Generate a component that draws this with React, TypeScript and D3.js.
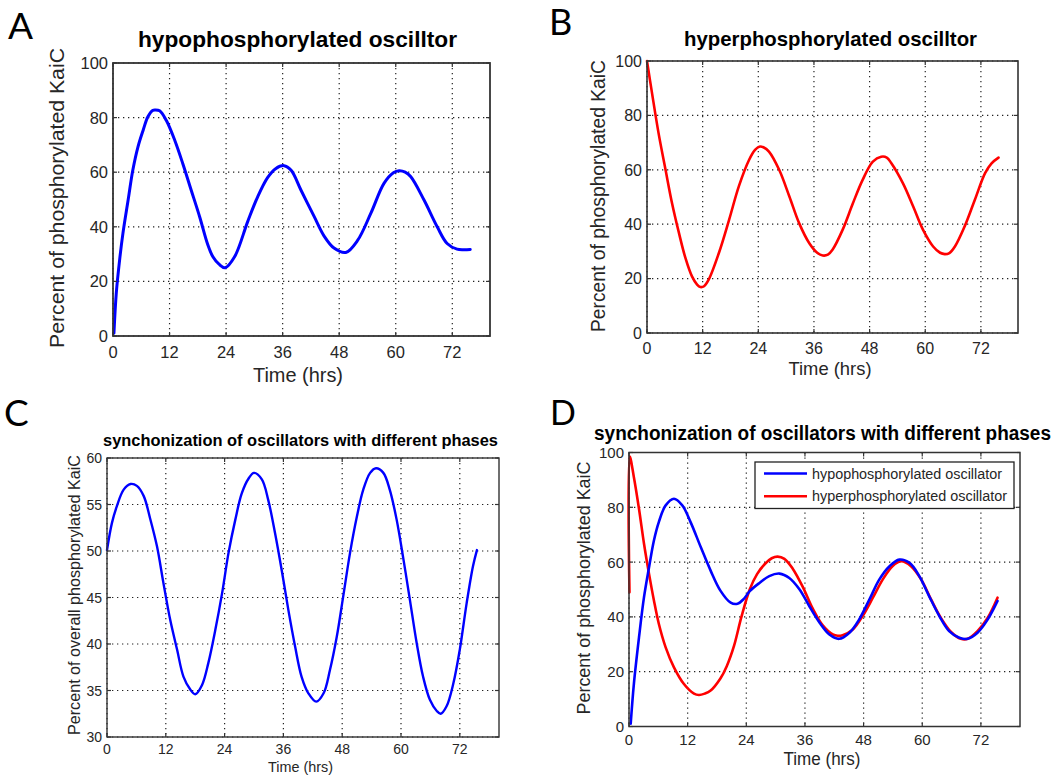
import React from 'react';
import * as d3 from 'd3';

// ---------- data ----------
const xTicks = [0, 12, 24, 36, 48, 60, 72];
const pctTicks = [0, 20, 40, 60, 80, 100];
const syncTicks = [30, 35, 40, 45, 50, 55, 60];

// Panel A: hypophosphorylated oscillator
const hypoT = [0.2, 0.7, 1.4, 2.1, 3.2, 4.2, 5.3, 6.4, 7.4, 8.4, 8.9, 9.9, 11.3, 13.1, 14.8, 16.6, 18.4, 20.1, 21.2, 22.5, 23.8, 25.8, 28.6, 30.7, 32.8, 34.5, 36.3, 37.8, 39.9, 42.7, 44.8, 46.9, 49.4, 51.9, 54.7, 57.5, 59.5, 60.7, 62, 63.2, 66, 68.8, 70.9, 73, 74.5, 75.8];
const hypoV = [1, 15.8, 27.8, 37.5, 49.7, 60.7, 69.3, 75.4, 80.3, 82.6, 82.8, 82.5, 79, 71.7, 63.2, 53.4, 43.6, 33.5, 29, 26.3, 25, 29, 42, 51, 58, 61.3, 62.4, 60.7, 53.4, 43.7, 36.6, 32.2, 30.6, 35, 44.9, 55.9, 59.8, 60.5, 60, 58.3, 49.8, 40, 33.9, 31.8, 31.6, 31.7];

// Panel B: hyperphosphorylated oscillator
const hyperT = [0, 1.1, 2.5, 4, 5.4, 6.9, 8.3, 9.7, 10.8, 11.5, 12.3, 13.3, 15.5, 17.7, 19.8, 22, 23.3, 24.2, 25.2, 26.3, 28.5, 30.7, 32.8, 35, 36.7, 37.9, 39, 40, 42.2, 44.4, 46.5, 48.7, 50.5, 51.7, 52.7, 55.2, 57.4, 59.5, 61.7, 63.2, 64.2, 65.2, 66.4, 68.5, 70.7, 72.9, 74.3, 75.8];
const hyperV = [100, 88, 73.4, 60, 47.7, 36.7, 27.5, 20.8, 17.8, 16.9, 17.2, 19.6, 29.4, 41.6, 53.9, 63.6, 67.3, 68.5, 68.2, 66.7, 60, 50.2, 40.4, 33, 29.5, 28.5, 28.8, 30.6, 38, 47.7, 56.3, 63, 64.8, 64.5, 62.4, 55, 46.5, 38, 31.8, 29.5, 29, 29.4, 31.8, 39.2, 49, 58.8, 62.4, 64.5];

// Panel C: overall phosphorylation
const syncT = [0, 1, 2, 3.4, 4.8, 6.1, 7.5, 8.8, 10.2, 11.5, 12.9, 14.3, 15.6, 17, 18, 19.4, 20.7, 22.1, 23.5, 24.8, 26.2, 27.5, 28.9, 30, 31.6, 32.9, 34.3, 35.7, 37, 38.4, 39.7, 41.1, 42.7, 44.2, 45.5, 46.9, 48.2, 49.6, 51, 52.3, 53.7, 54.9, 56.4, 57.7, 59.1, 60.5, 61.8, 63.2, 64.5, 65.9, 67.3, 68.1, 69.3, 70.7, 72, 73.4, 74.7, 75.5];
const syncV = [50.1, 53, 54.8, 56.6, 57.2, 57, 55.9, 53.5, 50.5, 46.6, 42.6, 39.4, 36.5, 35.1, 34.6, 35.6, 38, 41.5, 45.5, 49.8, 53.4, 56.2, 57.8, 58.4, 57.7, 55.5, 51.9, 47.8, 43.7, 39.7, 36.5, 34.7, 33.8, 34.7, 37.2, 40.8, 45.1, 49.8, 53.7, 56.6, 58.4, 58.9, 58.4, 56.6, 53.4, 49.1, 44.8, 40.1, 36.5, 34, 32.8, 32.5, 33.3, 35.8, 39.4, 44.4, 48.4, 50.1];

// Panel D: both oscillators together
const dHypoT = [0.35, 1.0, 2.05, 3.07, 4.1, 5.1, 6.1, 7.5, 9.2, 10.9, 12.6, 14.7, 16.7, 18.7, 20.8, 22.2, 23.5, 24.7, 26.7, 28.7, 30.8, 32.8, 34.9, 36.9, 39, 41, 43, 45.1, 47.1, 49.2, 51.2, 53.3, 55.3, 57.4, 59.4, 61.4, 63.5, 65.5, 67.6, 69.3, 71.3, 73.4, 75.4];
const dHypoV = [1, 15.6, 32.6, 47.2, 58.1, 67.9, 74.6, 80.7, 83.1, 80.7, 74.6, 65.4, 56.9, 49.6, 45.2, 44.8, 46.6, 49.4, 52.4, 54.9, 55.8, 54.2, 50, 43.9, 37.9, 33.6, 32, 34.2, 39.1, 46.4, 53.6, 58.5, 60.9, 59.7, 54.9, 47.6, 40.3, 34.8, 32.4, 32, 34.2, 39.1, 45.8];
const dHyperT = [0.1, 0.15, 1.0, 2.05, 3.07, 4.1, 5.1, 6.1, 7.5, 9.2, 11.2, 13.3, 14.3, 15.5, 16.7, 18.7, 20, 21.5, 23, 24.7, 26.2, 27.8, 29.2, 30.4, 31.8, 33.5, 35.6, 37.6, 39.6, 41.7, 42.7, 43.7, 45.8, 47.8, 49.9, 51.9, 53.9, 55.7, 57.7, 59.8, 61.8, 63.8, 65.9, 67.9, 69.3, 71.3, 73.4, 75.4];
const dHyperV = [49, 98.5, 91, 79.4, 66.7, 55.7, 46, 37.5, 28.9, 21.6, 15.6, 12, 11.5, 12, 13.1, 17.5, 22, 29.5, 40, 50, 55.6, 59.3, 61.4, 62, 61.2, 57.6, 50.8, 43, 37, 33.6, 33.1, 33.3, 35.4, 40.3, 47, 53.6, 58.5, 60.3, 58.5, 53.6, 46.4, 39.7, 34.5, 32, 32, 34.8, 39.7, 47];

const yLabel = 'Percent of phosphorylated KaiC';
const yLabelC = 'Percent of overall phosphorylated KaiC';
const xLabel = 'Time (hrs)';
const legendNames = ['hypophosphorylated oscillator', 'hyperphosphorylated oscillator'];

// ---------- styling ----------
const SANS = '"Liberation Sans", Arial, Helvetica, sans-serif';
const LETTER = 'Lato, "Open Sans", sans-serif';
const BLUE = '#0000ff';
const RED = '#ff0000';
const INK = '#262626';

type Series = { t: number[]; v: number[]; color: string; width: number };
type PanelCfg = {
  box: { left: number; right: number; top: number; bottom: number };
  yDomain: [number, number];
  yTicks: number[];
  tickSize: number;
  xTickDy: number;
  title: { text: string; x: number; y: number; size: number; len: number };
  ylab: { text: string; x: number; cy: number; size: number; len: number };
  xlab: { cx: number; y: number; size: number; len: number };
  letter: { text: string; x: number; y: number; size: number };
  series: Series[];
  boxWidth: number;
};

const Panel: React.FC<{ cfg: PanelCfg; children?: React.ReactNode }> = ({ cfg, children }) => {
  const { box } = cfg;
  const x = d3.scaleLinear().domain([0, 80]).range([box.left, box.right]);
  const y = d3.scaleLinear().domain(cfg.yDomain).range([box.bottom, box.top]);
  const tl = 4;
  return (
    <g>
      <text x={cfg.letter.x} y={cfg.letter.y} fontFamily={LETTER} fontSize={cfg.letter.size} fill="#000">
        {cfg.letter.text}
      </text>
      <text
        x={cfg.title.x}
        y={cfg.title.y}
        fontFamily={SANS}
        fontWeight="bold"
        fontSize={cfg.title.size}
        textLength={cfg.title.len}
        lengthAdjust="spacingAndGlyphs"
        fill="#000"
      >
        {cfg.title.text}
      </text>
      <rect x={box.left} y={box.top} width={box.right - box.left} height={box.bottom - box.top} fill="#fff" />
      {/* grid */}
      {xTicks.map((t) => (
        <line key={'gx' + t} x1={x(t)} x2={x(t)} y1={box.top} y2={box.bottom} stroke="#222" strokeWidth={1.2} strokeDasharray="1.3 3.7" />
      ))}
      {cfg.yTicks.map((t) => (
        <line key={'gy' + t} x1={box.left} x2={box.right} y1={y(t)} y2={y(t)} stroke="#222" strokeWidth={1.2} strokeDasharray="1.3 3.7" />
      ))}
      {/* series */}
      {cfg.series.map((s, i) => {
        const pts = s.t.map((t, k) => [t, s.v[k]] as [number, number]);
        const path = d3
          .line<[number, number]>()
          .x((d) => x(d[0]))
          .y((d) => y(d[1]))
          .curve(d3.curveCatmullRom.alpha(0.5))(pts);
        return <path key={i} d={path || ''} fill="none" stroke={s.color} strokeWidth={s.width} strokeLinejoin="round" strokeLinecap="round" />;
      })}
      {/* box */}
      <rect x={box.left} y={box.top} width={box.right - box.left} height={box.bottom - box.top} fill="none" stroke="#333" strokeWidth={cfg.boxWidth} />
      {/* ticks */}
      {xTicks.map((t) => (
        <g key={'tx' + t}>
          <line x1={x(t)} x2={x(t)} y1={box.bottom} y2={box.bottom - tl} stroke="#333" strokeWidth={1.2} />
          <line x1={x(t)} x2={x(t)} y1={box.top} y2={box.top + tl} stroke="#333" strokeWidth={1.2} />
          <text x={x(t)} y={box.bottom + cfg.xTickDy} textAnchor="middle" fontFamily={SANS} fontSize={cfg.tickSize} fill={INK}>
            {t}
          </text>
        </g>
      ))}
      {cfg.yTicks.map((t) => (
        <g key={'ty' + t}>
          <line x1={box.left} x2={box.left + tl} y1={y(t)} y2={y(t)} stroke="#333" strokeWidth={1.2} />
          <line x1={box.right} x2={box.right - tl} y1={y(t)} y2={y(t)} stroke="#333" strokeWidth={1.2} />
          <text x={box.left - 5} y={y(t) + cfg.tickSize * 0.36} textAnchor="end" fontFamily={SANS} fontSize={cfg.tickSize} fill={INK}>
            {t}
          </text>
        </g>
      ))}
      {/* axis labels */}
      <text
        transform={`translate(${cfg.ylab.x},${cfg.ylab.cy}) rotate(-90)`}
        textAnchor="middle"
        fontFamily={SANS}
        fontSize={cfg.ylab.size}
        textLength={cfg.ylab.len}
        lengthAdjust="spacingAndGlyphs"
        fill={INK}
      >
        {cfg.ylab.text}
      </text>
      <text
        x={cfg.xlab.cx}
        y={cfg.xlab.y}
        textAnchor="middle"
        fontFamily={SANS}
        fontSize={cfg.xlab.size}
        textLength={cfg.xlab.len}
        lengthAdjust="spacingAndGlyphs"
        fill={INK}
      >
        {xLabel}
      </text>
      {children}
    </g>
  );
};

const panelA: PanelCfg = {
  box: { left: 113, right: 490, top: 63, bottom: 336 },
  yDomain: [0, 100],
  yTicks: pctTicks,
  tickSize: 16.5,
  xTickDy: 22,
  title: { text: 'hypophosphorylated oscilltor', x: 138, y: 47, size: 22, len: 319 },
  ylab: { text: yLabel, x: 64, cy: 198, size: 21, len: 300 },
  xlab: { cx: 298, y: 382, size: 20, len: 90 },
  letter: { text: 'A', x: 8, y: 39, size: 37 },
  series: [{ t: hypoT, v: hypoV, color: BLUE, width: 3 }],
  boxWidth: 1.8,
};

const panelB: PanelCfg = {
  box: { left: 647, right: 1018, top: 61, bottom: 333 },
  yDomain: [0, 100],
  yTicks: pctTicks,
  tickSize: 16,
  xTickDy: 21,
  title: { text: 'hyperphosphorylated oscilltor', x: 684, y: 46, size: 20.5, len: 293 },
  ylab: { text: yLabel, x: 605, cy: 196, size: 19.3, len: 272 },
  xlab: { cx: 830, y: 375, size: 18.2, len: 83 },
  letter: { text: 'B', x: 549, y: 35, size: 36 },
  series: [{ t: hyperT, v: hyperV, color: RED, width: 2.6 }],
  boxWidth: 1.6,
};

const panelC: PanelCfg = {
  box: { left: 107, right: 499, top: 458, bottom: 737 },
  yDomain: [30, 60],
  yTicks: syncTicks,
  tickSize: 14,
  xTickDy: 17,
  title: { text: 'synchonization of oscillators with different phases', x: 103, y: 446, size: 17, len: 395 },
  ylab: { text: yLabelC, x: 80, cy: 595, size: 16, len: 280 },
  xlab: { cx: 300.5, y: 772, size: 15, len: 65 },
  letter: { text: 'C', x: 4, y: 426, size: 37 },
  series: [{ t: syncT, v: syncV, color: BLUE, width: 2.4 }],
  boxWidth: 1.4,
};

const panelD: PanelCfg = {
  box: { left: 629, right: 1020, top: 452.5, bottom: 726.5 },
  yDomain: [0, 100],
  yTicks: pctTicks,
  tickSize: 15,
  xTickDy: 18.5,
  title: { text: 'synchonization of oscillators with different phases', x: 594, y: 440, size: 19.5, len: 457 },
  ylab: { text: yLabel, x: 590, cy: 588, size: 18, len: 253 },
  xlab: { cx: 822, y: 765, size: 17.5, len: 77 },
  letter: { text: 'D', x: 550, y: 425, size: 34 },
  series: [
    { t: dHyperT, v: dHyperV, color: RED, width: 2.6 },
    { t: dHypoT, v: dHypoV, color: BLUE, width: 2.6 },
  ],
  boxWidth: 1.5,
};

const Legend: React.FC = () => {
  const lx = 755;
  const ly = 462;
  const colors = [BLUE, RED];
  const lens = [190, 195];
  return (
    <g>
      <rect x={lx} y={ly} width={259} height={46.5} fill="#fff" stroke="#222" strokeWidth={1.3} />
      {legendNames.map((n, i) => (
        <g key={n}>
          <line x1={lx + 9} x2={lx + 52} y1={ly + 11.5 + i * 22.7} y2={ly + 11.5 + i * 22.7} stroke={colors[i]} strokeWidth={2.6} />
          <text
            x={lx + 57}
            y={ly + 16.5 + i * 22.7}
            fontFamily={SANS}
            fontSize={14}
            textLength={lens[i]}
            lengthAdjust="spacingAndGlyphs"
            fill={INK}
          >
            {n}
          </text>
        </g>
      ))}
    </g>
  );
};

export default function App() {
  return (
    <svg
      width={1064}
      height={780}
      viewBox="0 0 1064 780"
      style={{ position: 'absolute', left: 0, top: 0, display: 'block', background: '#fff' }}
    >
      <rect x={0} y={0} width={1064} height={780} fill="#fff" />
      <Panel cfg={panelA} />
      <Panel cfg={panelB} />
      <Panel cfg={panelC} />
      <Panel cfg={panelD}>
        <Legend />
      </Panel>
    </svg>
  );
}
